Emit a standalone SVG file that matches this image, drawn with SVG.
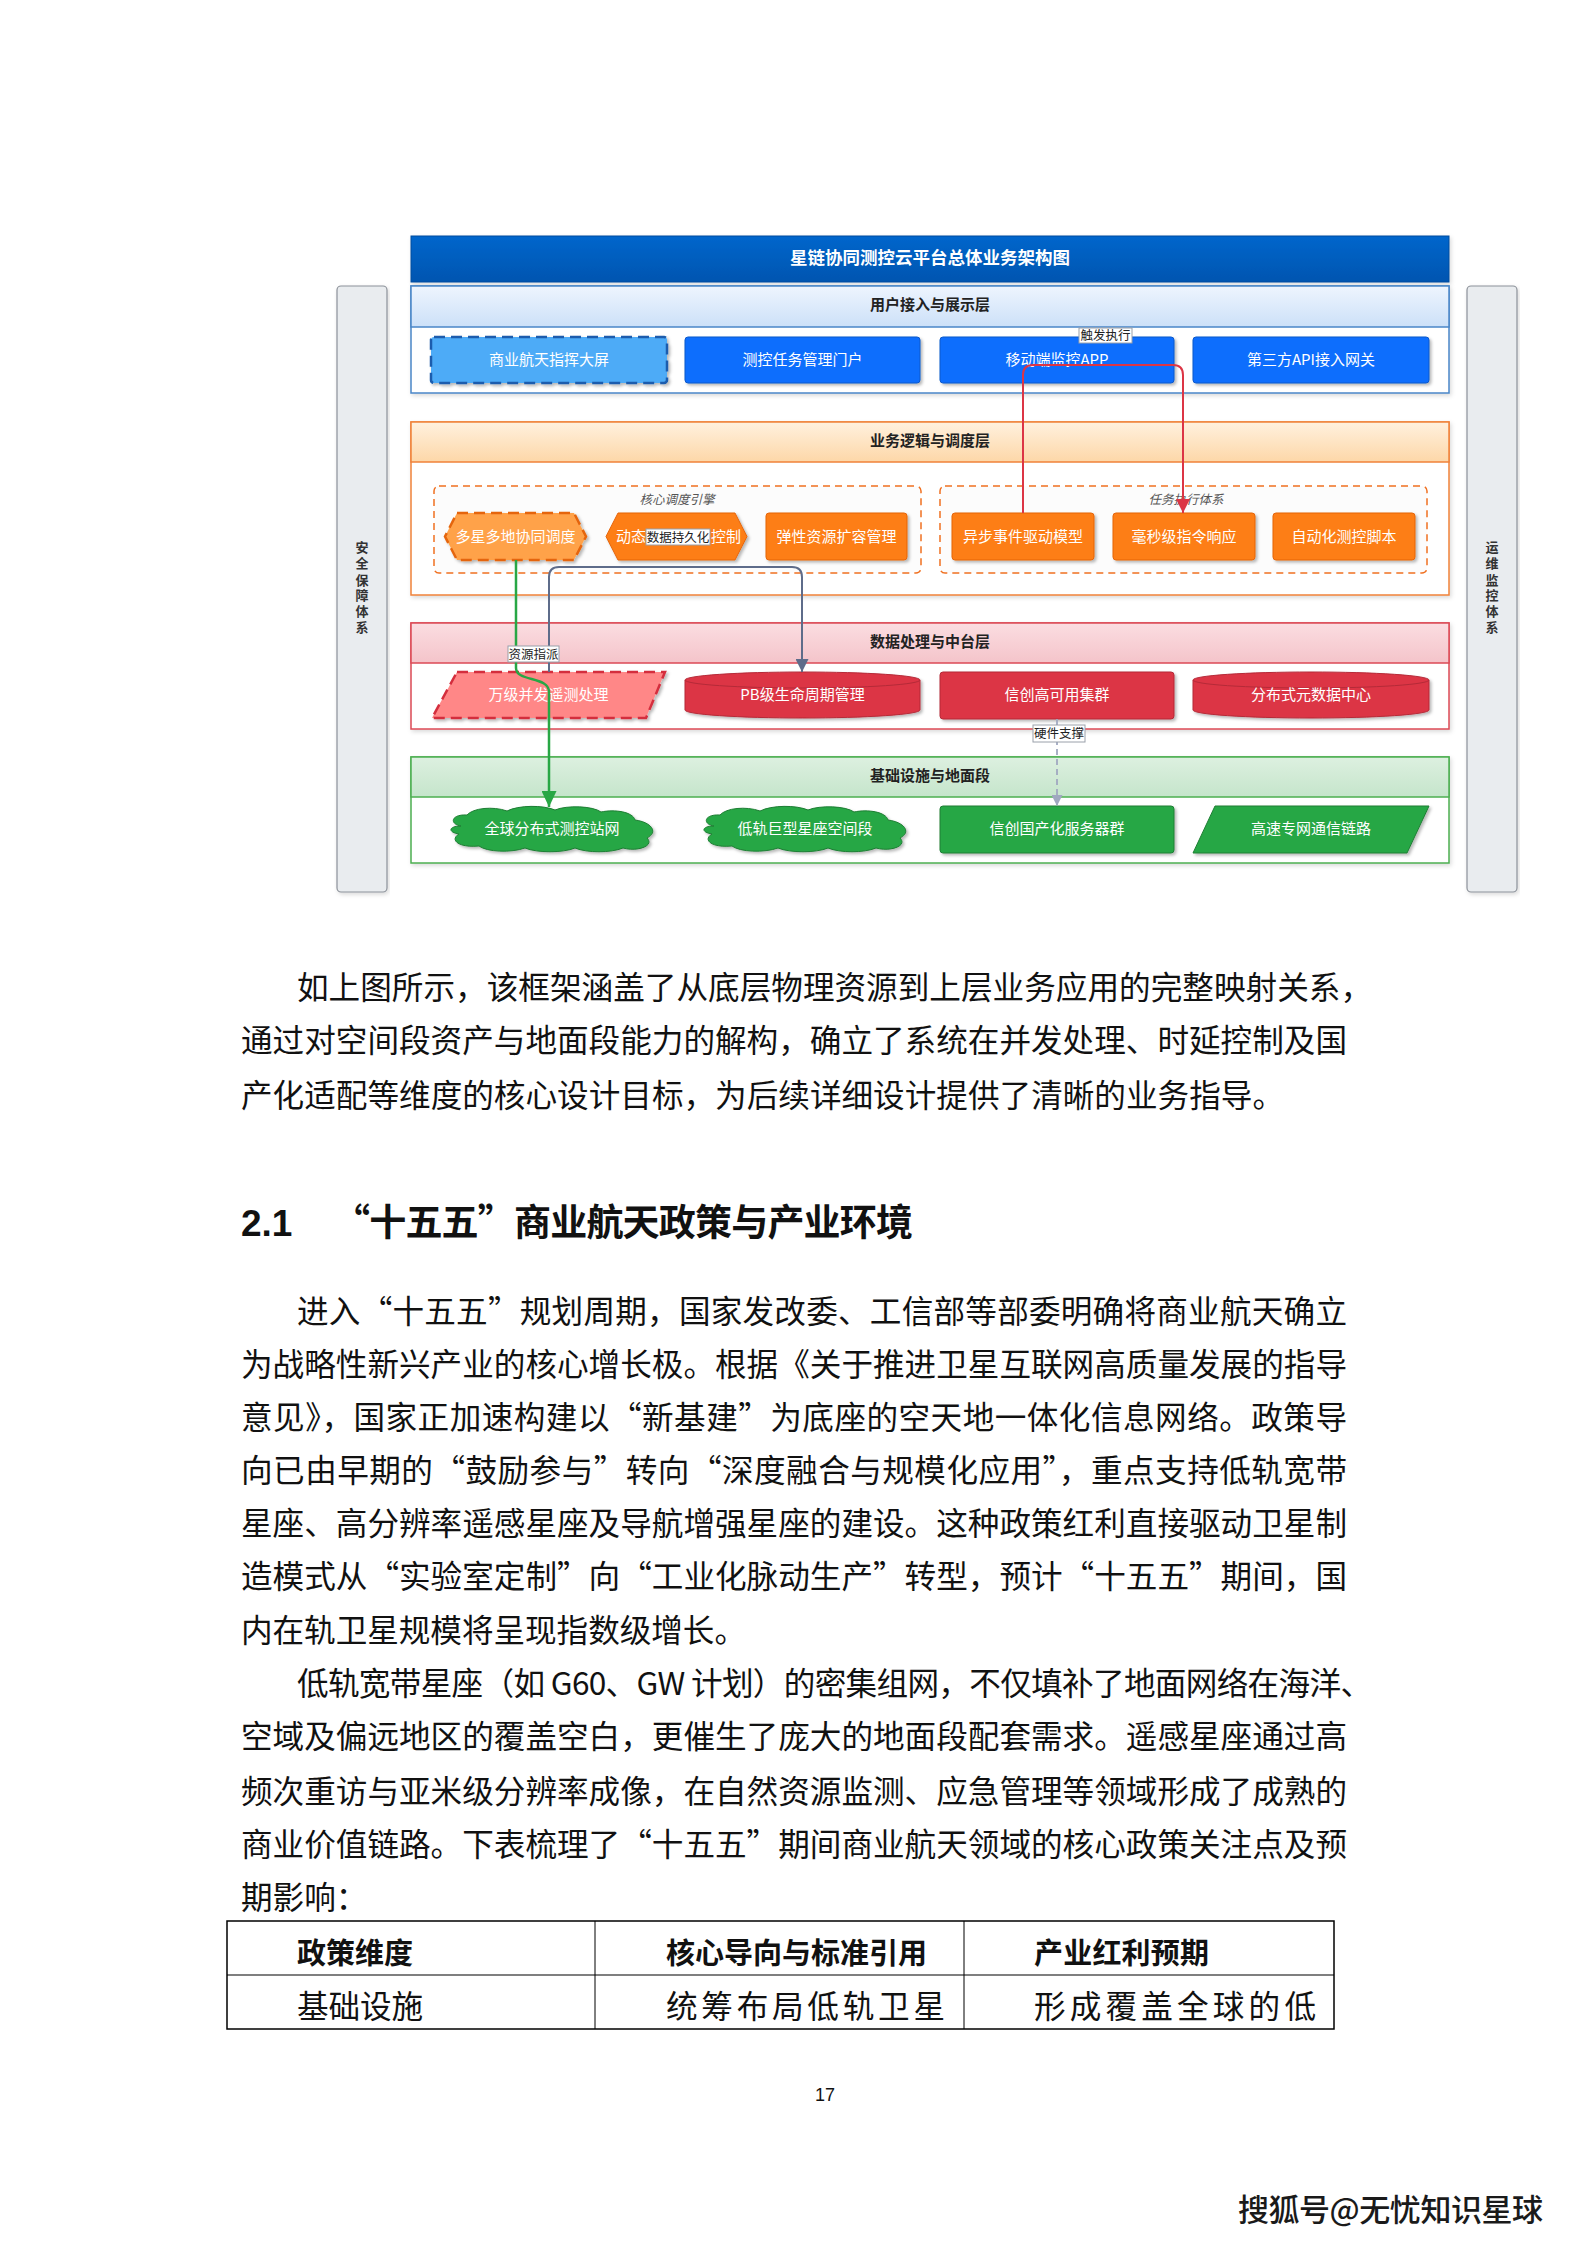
<svg xmlns="http://www.w3.org/2000/svg" width="1587" height="2245" viewBox="0 0 1587 2245">
<defs>
<style>
.cjk{font-family:"Noto Sans CJK SC","Noto Sans",sans-serif}
.lh{font-family:"Noto Sans CJK SC",sans-serif;font-size:15px;font-weight:bold;fill:#222;text-anchor:middle}
.nt{font-family:"Noto Sans CJK SC",sans-serif;font-size:15px;fill:#fff;text-anchor:middle}
.gl{font-family:"Noto Sans CJK SC",sans-serif;font-size:12.5px;font-style:italic;fill:#555;text-anchor:middle}
.cl{font-family:"Noto Sans CJK SC",sans-serif;font-size:12.5px;fill:#222;text-anchor:middle}
.clb{fill:#fff;stroke:#9AA0AA;stroke-width:1}
.side{fill:#E9ECEF;stroke:#8C9199;stroke-width:1.2}
.st{font-family:"Noto Sans CJK SC",sans-serif;font-size:13px;font-weight:bold;fill:#333;text-anchor:middle}
.body{font-family:"Noto Sans CJK SC",sans-serif;font-size:31.6px;fill:#111}
.blue{fill:#0D6EFD;stroke:#0A58CA;stroke-width:1}
.orange{fill:#FD7E14;stroke:#E5650C;stroke-width:1}
.red{fill:#DC3545;stroke:#B52A38;stroke-width:1}
.green{fill:#28A745;stroke:#1E7E34;stroke-width:1}
.grp{fill:#FCFCFC;stroke:#F07020;stroke-width:1.5;stroke-dasharray:7 5}
</style>
<linearGradient id="gBlue" x1="0" y1="0" x2="0" y2="1"><stop offset="0" stop-color="#EEF5FE"/><stop offset="1" stop-color="#CCE0F8"/></linearGradient>
<linearGradient id="gOrange" x1="0" y1="0" x2="0" y2="1"><stop offset="0" stop-color="#FFF1DE"/><stop offset="1" stop-color="#FDD7A8"/></linearGradient>
<linearGradient id="gRed" x1="0" y1="0" x2="0" y2="1"><stop offset="0" stop-color="#FBDDE1"/><stop offset="1" stop-color="#F4C4CA"/></linearGradient>
<linearGradient id="gGreen" x1="0" y1="0" x2="0" y2="1"><stop offset="0" stop-color="#DDF0E0"/><stop offset="1" stop-color="#C5E5CB"/></linearGradient>
<linearGradient id="gTitle" x1="0" y1="0" x2="0" y2="1"><stop offset="0" stop-color="#0066CC"/><stop offset="1" stop-color="#0055B0"/></linearGradient>
<filter id="sh" x="-10%" y="-20%" width="125%" height="150%"><feDropShadow dx="2" dy="2" stdDeviation="1.5" flood-color="#000" flood-opacity="0.28"/></filter>
<filter id="shl" x="-5%" y="-10%" width="110%" height="125%"><feDropShadow dx="1.5" dy="2" stdDeviation="2" flood-color="#000" flood-opacity="0.15"/></filter>
<marker id="aRed" markerUnits="userSpaceOnUse" markerWidth="14" markerHeight="14" refX="14" refY="7" orient="auto"><path d="M0,0 L14,7 L0,14 Z" fill="#DC3545"/></marker>
<marker id="aGray" markerUnits="userSpaceOnUse" markerWidth="13" markerHeight="13" refX="13" refY="6.5" orient="auto"><path d="M0,0 L13,6.5 L0,13 Z" fill="#5E6C8A"/></marker>
<marker id="aGreen" markerUnits="userSpaceOnUse" markerWidth="16" markerHeight="15" refX="16" refY="7.5" orient="auto"><path d="M0,0 L16,7.5 L0,15 Z" fill="#28A745"/></marker>
<marker id="aDash" markerUnits="userSpaceOnUse" markerWidth="11" markerHeight="11" refX="11" refY="5.5" orient="auto"><path d="M0,0 L11,5.5 L0,11 Z" fill="#A0A8C0"/></marker>
<path id="cloud" d="M14,20 C2,18 4,8 20,9 C26,2 46,0 60,5 C72,-1 96,-1 108,4 C120,-1 146,0 154,6 C168,3 186,6 188,14 C204,16 212,26 200,32 C208,40 190,46 176,42 C164,47 140,47 128,42 C116,47 90,47 78,42 C64,47 40,46 32,40 C12,42 2,34 12,28 C0,26 2,20 14,20 Z"/>
</defs>
<rect width="1587" height="2245" fill="#fff"/>

<!-- side bars -->
<g id="side-security">
<rect class="side" x="337" y="286" width="50" height="606" rx="4" filter="url(#shl)"/>
<text class="st"><tspan x="362" y="552">安</tspan><tspan x="362" y="568">全</tspan><tspan x="362" y="585">保</tspan><tspan x="362" y="600">障</tspan><tspan x="362" y="616">体</tspan><tspan x="362" y="632">系</tspan></text>
</g>
<g id="side-ops">
<rect class="side" x="1467" y="286" width="50" height="606" rx="4" filter="url(#shl)"/>
<text class="st"><tspan x="1492" y="552">运</tspan><tspan x="1492" y="568">维</tspan><tspan x="1492" y="585">监</tspan><tspan x="1492" y="600">控</tspan><tspan x="1492" y="616">体</tspan><tspan x="1492" y="632">系</tspan></text>
</g>

<!-- title -->
<g id="title">
<rect x="411" y="236" width="1038" height="46" fill="url(#gTitle)" stroke="#004C9E" stroke-width="1" filter="url(#shl)"/>
<text x="930" y="264" font-family="'Noto Sans CJK SC',sans-serif" font-size="17.5" font-weight="bold" fill="#fff" text-anchor="middle">星链协同测控云平台总体业务架构图</text>
</g>

<!-- layers -->
<g id="layer-user">
<rect x="411" y="286" width="1038" height="107" fill="#fff" stroke="#4A86C8" stroke-width="1.5" filter="url(#shl)"/>
<rect x="411" y="286" width="1038" height="41" fill="url(#gBlue)" stroke="#4A86C8" stroke-width="1.5"/>
<text class="lh" x="930" y="310">用户接入与展示层</text>
</g>
<g id="layer-logic">
<rect x="411" y="422" width="1038" height="173" fill="#fff" stroke="#F0823A" stroke-width="1.5" filter="url(#shl)"/>
<rect x="411" y="422" width="1038" height="40" fill="url(#gOrange)" stroke="#F0823A" stroke-width="1.5"/>
<text class="lh" x="930" y="446">业务逻辑与调度层</text>
</g>
<g id="layer-data">
<rect x="411" y="623" width="1038" height="106" fill="#fff" stroke="#DC4A56" stroke-width="1.5" filter="url(#shl)"/>
<rect x="411" y="623" width="1038" height="40" fill="url(#gRed)" stroke="#DC4A56" stroke-width="1.5"/>
<text class="lh" x="930" y="647">数据处理与中台层</text>
</g>
<g id="layer-infra">
<rect x="411" y="757" width="1038" height="106" fill="#fff" stroke="#4CAF50" stroke-width="1.5" filter="url(#shl)"/>
<rect x="411" y="757" width="1038" height="40" fill="url(#gGreen)" stroke="#4CAF50" stroke-width="1.5"/>
<text class="lh" x="930" y="781">基础设施与地面段</text>
</g>

<!-- dashed groups -->
<g id="group-core">
<rect class="grp" x="434" y="486" width="487" height="87" rx="5"/>
<text class="gl" x="677" y="504">核心调度引擎</text>
</g>
<g id="group-task">
<rect class="grp" x="940" y="486" width="487" height="87" rx="5"/>
<text class="gl" x="1186" y="504">任务执行体系</text>
</g>

<!-- user nodes -->
<g id="n-screen"><rect x="431" y="337" width="236" height="46" rx="3" fill="#4DABF7" stroke="#1A5CAD" stroke-width="2.5" stroke-dasharray="11 6" filter="url(#sh)"/><text class="nt" x="549" y="365">商业航天指挥大屏</text></g>
<g id="n-portal"><rect class="blue" x="685" y="337" width="235" height="46" rx="3" filter="url(#sh)"/><text class="nt" x="802.5" y="365">测控任务管理门户</text></g>
<g id="n-app"><rect class="blue" x="940" y="337" width="234" height="46" rx="3" filter="url(#sh)"/><text class="nt" x="1057" y="365">移动端监控APP</text></g>
<g id="n-api"><rect class="blue" x="1193" y="337" width="236" height="46" rx="3" filter="url(#sh)"/><text class="nt" x="1311" y="365">第三方API接入网关</text></g>

<!-- logic nodes -->
<g id="n-multi"><polygon points="457,513 574,513 586,536.5 574,560 457,560 445,536.5" fill="#FFA24A" stroke="#E5650C" stroke-width="2.5" stroke-dasharray="11 6" filter="url(#sh)"/><text class="nt" x="515.5" y="541.5">多星多地协同调度</text></g>
<g id="n-dyn"><polygon class="orange" points="618,513 735,513 747,536.5 735,560 618,560 606,536.5" filter="url(#sh)"/><text class="nt" x="631" y="541.5">动态</text><text class="nt" x="726" y="541.5">控制</text></g>
<g id="n-elastic"><rect class="orange" x="766" y="513" width="141" height="47" rx="3" filter="url(#sh)"/><text class="nt" x="836.5" y="541.5">弹性资源扩容管理</text></g>
<g id="n-async"><rect class="orange" x="952" y="513" width="142" height="47" rx="3" filter="url(#sh)"/><text class="nt" x="1023" y="541.5">异步事件驱动模型</text></g>
<g id="n-ms"><rect class="orange" x="1113" y="513" width="142" height="47" rx="3" filter="url(#sh)"/><text class="nt" x="1184" y="541.5">毫秒级指令响应</text></g>
<g id="n-script"><rect class="orange" x="1273" y="513" width="142" height="47" rx="3" filter="url(#sh)"/><text class="nt" x="1344" y="541.5">自动化测控脚本</text></g>

<!-- data nodes -->
<g id="n-telemetry"><polygon points="457,672 665,672 646,718 432,718" fill="#FF8787" stroke="#D42E3E" stroke-width="2.5" stroke-dasharray="11 6" filter="url(#sh)"/><text class="nt" x="548.5" y="700">万级并发遥测处理</text></g>
<g id="n-pb"><path class="red" d="M685,680 A117.5,8 0 0 1 920,680 V710 A117.5,8 0 0 1 685,710 Z" filter="url(#sh)"/><path d="M685,680 A117.5,8 0 0 0 920,680" fill="none" stroke="#B52A38" stroke-width="1"/><text class="nt" x="802.5" y="700">PB级生命周期管理</text></g>
<g id="n-cluster"><rect class="red" x="940" y="672" width="234" height="47" rx="3" filter="url(#sh)"/><text class="nt" x="1057" y="700">信创高可用集群</text></g>
<g id="n-meta"><path class="red" d="M1193,680 A118,8 0 0 1 1429,680 V710 A118,8 0 0 1 1193,710 Z" filter="url(#sh)"/><path d="M1193,680 A118,8 0 0 0 1429,680" fill="none" stroke="#B52A38" stroke-width="1"/><text class="nt" x="1311" y="700">分布式元数据中心</text></g>

<!-- infra nodes -->
<g id="n-station"><use href="#cloud" transform="translate(447,806)" class="green" filter="url(#sh)"/><text class="nt" x="552" y="834">全球分布式测控站网</text></g>
<g id="n-leo"><use href="#cloud" transform="translate(700,806)" class="green" filter="url(#sh)"/><text class="nt" x="805" y="834">低轨巨型星座空间段</text></g>
<g id="n-server"><rect class="green" x="940" y="806" width="234" height="47" rx="3" filter="url(#sh)"/><text class="nt" x="1057" y="834">信创国产化服务器群</text></g>
<g id="n-link"><polygon class="green" points="1215,806 1429,806 1407,853 1193,853" filter="url(#sh)"/><text class="nt" x="1311" y="834">高速专网通信链路</text></g>

<!-- connectors -->
<g id="connectors" fill="none">
<path d="M1023,513 V375 Q1023,365 1033,365 H1173 Q1183,365 1183,375 V513" stroke="#DC3545" stroke-width="2" marker-end="url(#aRed)"/>
<path d="M549,672 V577 Q549,567 559,567 H792 Q802,567 802,577 V672" stroke="#5E6C8A" stroke-width="2" marker-end="url(#aGray)"/>
<path d="M516,560 V668 C516,682 549,676 549,692 V807" stroke="#28A745" stroke-width="2.5" marker-end="url(#aGreen)"/>
<path d="M1057,719 V806" stroke="#A0A8C0" stroke-width="1.8" stroke-dasharray="6 4" marker-end="url(#aDash)"/>
<g id="connector-labels">
<rect class="clb" x="1079" y="328" width="53" height="15"/><text class="cl" x="1105.5" y="340">触发执行</text>
<rect class="clb" x="646" y="529" width="64" height="16"/><text class="cl" x="678" y="541.5">数据持久化</text>
<rect class="clb" x="508" y="646" width="51" height="16"/><text class="cl" x="533.5" y="658.5">资源指派</text>
<rect class="clb" x="1033" y="725" width="52" height="17"/><text class="cl" x="1059" y="738">硬件支撑</text>
</g>
</g>

<!-- body text -->
<g id="body-text" class="body">
<text x="297" y="999" textLength="1075" lengthAdjust="spacing">如上图所示，该框架涵盖了从底层物理资源到上层业务应用的完整映射关系，</text>
<text x="241" y="1052" textLength="1106" lengthAdjust="spacing">通过对空间段资产与地面段能力的解构，确立了系统在并发处理、时延控制及国</text>
<text x="241" y="1107" textLength="1043" lengthAdjust="spacing">产化适配等维度的核心设计目标，为后续详细设计提供了清晰的业务指导。</text>

<text x="241" y="1236" font-family="'Liberation Sans',sans-serif" font-size="37" font-weight="bold">2.1</text>
<text x="333" y="1236" font-size="37" font-weight="bold" textLength="580" lengthAdjust="spacing">“十五五”商业航天政策与产业环境</text>

<text x="297" y="1323" textLength="1050" lengthAdjust="spacing">进入“十五五”规划周期，国家发改委、工信部等部委明确将商业航天确立</text>
<text x="241" y="1376" textLength="1106" lengthAdjust="spacing">为战略性新兴产业的核心增长极。根据《关于推进卫星互联网高质量发展的指导</text>
<text x="241" y="1429" textLength="1106" lengthAdjust="spacing">意见》，国家正加速构建以“新基建”为底座的空天地一体化信息网络。政策导</text>
<text x="241" y="1482" textLength="1106" lengthAdjust="spacing">向已由早期的“鼓励参与”转向“深度融合与规模化应用”，重点支持低轨宽带</text>
<text x="241" y="1535" textLength="1106" lengthAdjust="spacing">星座、高分辨率遥感星座及导航增强星座的建设。这种政策红利直接驱动卫星制</text>
<text x="241" y="1588" textLength="1106" lengthAdjust="spacing">造模式从“实验室定制”向“工业化脉动生产”转型，预计“十五五”期间，国</text>
<text x="241" y="1642" textLength="505" lengthAdjust="spacing">内在轨卫星规模将呈现指数级增长。</text>

<text x="297" y="1695" textLength="1075" lengthAdjust="spacing">低轨宽带星座（如 G60、GW 计划）的密集组网，不仅填补了地面网络在海洋、</text>
<text x="241" y="1748" textLength="1106" lengthAdjust="spacing">空域及偏远地区的覆盖空白，更催生了庞大的地面段配套需求。遥感星座通过高</text>
<text x="241" y="1803" textLength="1106" lengthAdjust="spacing">频次重访与亚米级分辨率成像，在自然资源监测、应急管理等领域形成了成熟的</text>
<text x="241" y="1856" textLength="1106" lengthAdjust="spacing">商业价值链路。下表梳理了“十五五”期间商业航天领域的核心政策关注点及预</text>
<text x="241" y="1909">期影响：</text>
</g>

<!-- table -->
<g id="table">
<rect x="227" y="1921" width="1107" height="108" fill="none" stroke="#000" stroke-width="1.5"/>
<line x1="227" y1="1975" x2="1334" y2="1975" stroke="#000" stroke-width="1.2"/>
<line x1="595" y1="1921" x2="595" y2="2029" stroke="#000" stroke-width="1"/>
<line x1="964" y1="1921" x2="964" y2="2029" stroke="#000" stroke-width="1"/>
<g class="body">
<text x="297" y="1964" font-size="29" font-weight="bold" textLength="116" lengthAdjust="spacing">政策维度</text>
<text x="666" y="1964" font-size="29" font-weight="bold" textLength="261" lengthAdjust="spacing">核心导向与标准引用</text>
<text x="1034" y="1964" font-size="29" font-weight="bold" textLength="175" lengthAdjust="spacing">产业红利预期</text>
<text x="297" y="2018" textLength="126" lengthAdjust="spacing">基础设施</text>
<text x="666" y="2018" textLength="279" lengthAdjust="spacing">统筹布局低轨卫星</text>
<text x="1034" y="2018" textLength="282" lengthAdjust="spacing">形成覆盖全球的低</text>
</g>
</g>

<text id="page-number" x="825" y="2101" font-family="'Liberation Sans',sans-serif" font-size="18" fill="#111" text-anchor="middle">17</text>
<text id="sohu-mark" x="1238" y="2221" font-family="'Noto Sans CJK SC',sans-serif" font-size="31" font-weight="500" fill="#1a1a1a" stroke="#fff" stroke-width="0.8" paint-order="stroke" textLength="305" lengthAdjust="spacing">搜狐号@无忧知识星球</text>
</svg>
